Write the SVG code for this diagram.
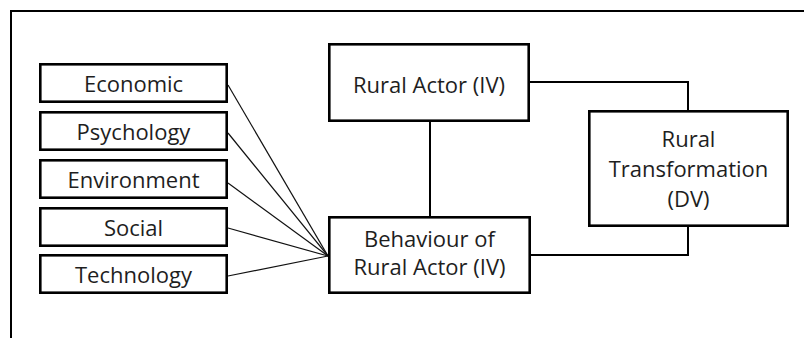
<svg xmlns="http://www.w3.org/2000/svg" width="804" height="338" viewBox="0 0 804 338">
<style>
.box{fill:#fff;stroke:#000;stroke-width:2.6}
.conn{fill:none;stroke:#000;stroke-width:2}
.fan{fill:none;stroke:#111;stroke-width:1.2}
.lbl{font-family:"Open Sans","Liberation Sans",sans-serif;font-size:22px;fill:#1e1e1e;text-anchor:middle}
</style>
<rect width="804" height="338" fill="#fff"/>
<path d="M11,338 V11 H804" fill="none" stroke="#000" stroke-width="2"/>
<g id="connectors">
<path class="fan" d="M228,85 L328,256"/>
<path class="fan" d="M228,133 L328,256"/>
<path class="fan" d="M228,183 L328,256"/>
<path class="fan" d="M228,228 L328,256"/>
<path class="fan" d="M228,276 L328,256"/>
<path class="conn" d="M430,121 V217"/>
<path class="conn" d="M530,82 H688 V111"/>
<path class="conn" d="M531,255 H688 V226"/>
</g>
<g id="economic"><rect class="box" x="40.3" y="64.3" width="186.4" height="37.4"/><text class="lbl" x="133.5" y="92">Economic</text></g>
<g id="psychology"><rect class="box" x="40.3" y="112.3" width="186.4" height="37.4"/><text class="lbl" x="133.5" y="140">Psychology</text></g>
<g id="environment"><rect class="box" x="40.3" y="160.3" width="186.4" height="37.4"/><text class="lbl" x="133.5" y="188">Environment</text></g>
<g id="social"><rect class="box" x="40.3" y="208.3" width="186.4" height="37.4"/><text class="lbl" x="133.5" y="236">Social</text></g>
<g id="technology"><rect class="box" x="40.3" y="255.3" width="186.4" height="37.4"/><text class="lbl" x="133.5" y="283">Technology</text></g>
<g id="rural-actor"><rect class="box" x="329.3" y="44.3" width="199.4" height="76.4"/><text class="lbl" x="429" y="93">Rural Actor (IV)</text></g>
<g id="behaviour"><rect class="box" x="329.3" y="217.3" width="200.4" height="75.4"/><text class="lbl" x="429.5" y="247">Behaviour of</text><text class="lbl" x="429.5" y="275">Rural Actor (IV)</text></g>
<g id="rural-transformation"><rect class="box" x="589.3" y="111.3" width="198.4" height="114.4"/><text class="lbl" x="688.5" y="147">Rural</text><text class="lbl" x="688.5" y="177">Transformation</text><text class="lbl" x="688.5" y="207">(DV)</text></g>
</svg>
